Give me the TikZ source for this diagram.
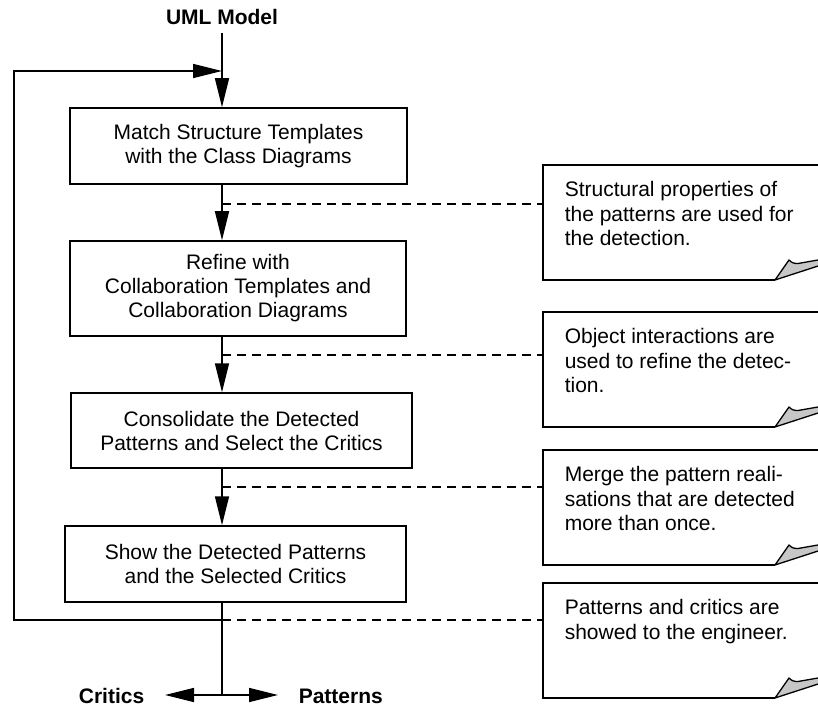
\documentclass[tikz,border=0pt]{standalone}
\usepackage{fontspec}
\setmainfont{Liberation Sans}
\usetikzlibrary{arrows.meta,calc}
\begin{document}
\begin{tikzpicture}[x=1pt,y=-1pt,
  line width=1.5pt,
  tip/.style={-{Triangle[length=29pt,width=14pt]}},
  stepbox/.style={draw,rectangle,inner sep=0pt,align=center,
    font=\fontsize{21}{24}\selectfont},
  flowlabel/.style={font=\fontsize{21}{24}\selectfont\bfseries,inner sep=0pt},
  notesheet/.style={draw=none,rectangle,anchor=north west,inner sep=0pt,
    minimum width=300pt,minimum height=113.5pt},
  notetext/.style={align=left,anchor=north west,inner sep=0pt,
    font=\fontsize{21}{24.5}\selectfont},
  notelink/.style={dash pattern=on 9pt off 6pt},
  curl/.style={fill=black!22,line join=round,line width=1.3pt}]

\useasboundingbox (0,0) rectangle (818,708);
\clip (0,0) rectangle (818,708);

% input and outputs
\node[flowlabel,anchor=base] (uml) at (222,25) {UML Model};
\node[flowlabel,anchor=base east] (critics) at (145,703.5) {Critics};
\node[flowlabel,anchor=base west] (patterns) at (298,703.5) {Patterns};

% process steps
\node[stepbox,minimum width=337pt,minimum height=76pt] (b1) at (238.5,146)
  {Match Structure Templates\\with the Class Diagrams};
\node[stepbox,minimum width=336pt,minimum height=95pt] (b2) at (238,288.5)
  {Refine with\\Collaboration Templates and\\Collaboration Diagrams};
\node[stepbox,minimum width=341pt,minimum height=75pt] (b3) at (241.5,430.5)
  {Consolidate the Detected\\Patterns and Select the Critics};
\node[stepbox,minimum width=341pt,minimum height=76pt] (b4) at (235.5,564)
  {Show the Detected Patterns\\and the Selected Critics};

% main flow
\draw[tip,shorten <=7pt] (uml.south) -- (b1.north -| uml);
\draw[tip] (b1.south -| uml) -- (b2.north -| uml);
\draw[tip] (b2.south -| uml) -- (b3.north -| uml);
\draw[tip] (b3.south -| uml) -- (b4.north -| uml);

% feedback loop and outputs
\coordinate (jtop) at (222,71);
\coordinate (ltop) at (14,71);
\coordinate (lbot) at (14,620);
\coordinate (jbot) at (222,620);
\coordinate (fork) at (222,695);
\draw[tip] (jbot) -- (lbot) -- (ltop) -- (jtop);
\draw (b4.south -| uml) -- (fork);
\draw[tip] (fork) -- ([xshift=20pt]critics.east |- fork);
\draw[tip] (fork) -- ([xshift=-20pt]patterns.west |- fork);

% annotation notes
\foreach \nm/\top/\txt in {
  n1/165/{Structural properties of\\the patterns are used for\\the detection.},
  n2/312/{Object interactions are\\used to refine the detec-\\tion.},
  n3/450/{Merge the pattern reali-\\sations that are detected\\more than once.},
  n4/583/{Patterns and critics are\\showed to the engineer.}}{
  \node[notesheet] (\nm) at (543,\top) {};
  \coordinate (\nm k) at ($(\nm.south west)+(232,0)$);
  \draw (\nm.north east) -- (\nm.north west) -- (\nm.south west) -- (\nm k);
  \filldraw[curl] (\nm k) -- ($(\nm k)+(14,-20)$)
    .. controls ($(\nm k)+(17,-17)$) and ($(\nm k)+(19,-16.5)$) .. ($(\nm k)+(23,-16.5)$)
    -- ($(\nm k)+(60,-23)$) -- ($(\nm k)+(60,-19.5)$) -- cycle;
  \node[notetext] at ($(\nm.north west)+(21,16)$) {\txt};
}

% dashed links from the flow to the notes
\coordinate (d1) at (222,204);
\coordinate (d2) at (222,355);
\coordinate (d3) at (222,487);
\draw[notelink] (d1) -- (d1 -| n1.west);
\draw[notelink] (d2) -- (d2 -| n2.west);
\draw[notelink] (d3) -- (d3 -| n3.west);
\draw[notelink] (jbot) -- (jbot -| n4.west);
\end{tikzpicture}
\end{document}
